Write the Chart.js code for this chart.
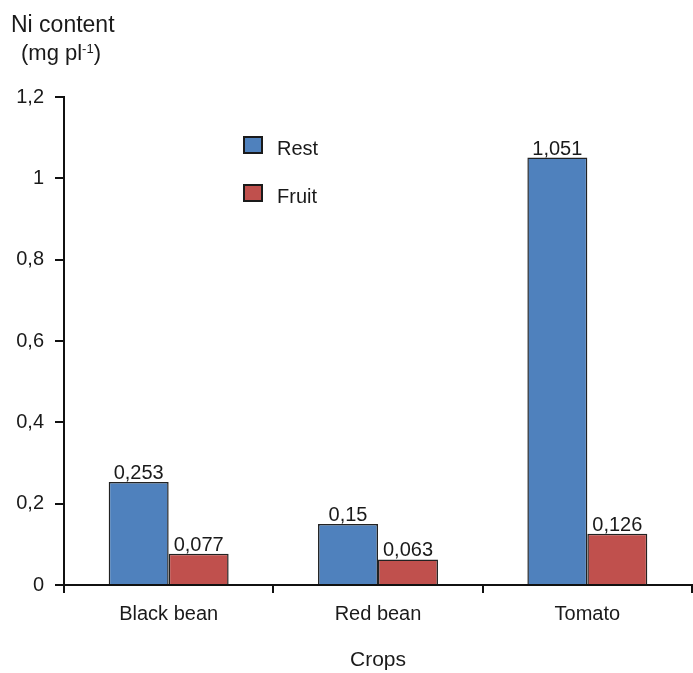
<!DOCTYPE html>
<html>
<head>
<meta charset="utf-8">
<script src="https://cdn.jsdelivr.net/npm/chart.js@4.4.1/dist/chart.umd.min.js"></script>
<style>
  html, body { margin: 0; padding: 0; background: #fff; }
  #wrap { width: 693px; height: 673px; }
</style>
</head>
<body>
<div id="wrap"><canvas id="chart" width="693" height="673"></canvas></div>
<script>
// data
const crops = ["Black bean", "Red bean", "Tomato"];
const restValues = [0.253, 0.15, 1.051];
const fruitValues = [0.077, 0.063, 0.126];
const seriesNames = ["Rest", "Fruit"];
const seriesColors = ["#4F81BD", "#C0504D"];
const yTicks = [0, 0.2, 0.4, 0.6, 0.8, 1, 1.2];

const FONT = "'Liberation Sans', Arial, sans-serif";
const fmt = v => String(v).replace(".", ",");

// axis title, legend and value labels
const extras = {
  id: "extras",
  afterDatasetsDraw(chart) {
    const c = chart.ctx;
    c.save();
    c.fillStyle = "#1a1a1a";
    c.textBaseline = "alphabetic";

    // value labels on top of bars
    c.font = "20px " + FONT;
    c.textAlign = "center";
    chart.data.datasets.forEach((ds, i) => {
      chart.getDatasetMeta(i).data.forEach((bar, j) => {
        c.fillText(fmt(ds.data[j]), bar.x, bar.y - 3);
      });
    });

    // y title
    c.textAlign = "left";
    c.font = "23px " + FONT;
    c.fillText("Ni content", 11, 32);
    c.font = "22px " + FONT;
    let x = 21;
    c.fillText("(mg pl", x, 60);
    x += c.measureText("(mg pl").width;
    c.font = "13px " + FONT;
    c.fillText("-1", x, 53);
    x += c.measureText("-1").width;
    c.font = "22px " + FONT;
    c.fillText(")", x, 60);

    // legend
    const rows = [137, 185];
    chart.data.datasets.forEach((ds, i) => {
      c.fillStyle = ds.backgroundColor;
      c.fillRect(244, rows[i], 18, 16);
      c.strokeStyle = "#1a1a1a";
      c.lineWidth = 2;
      c.strokeRect(244, rows[i], 18, 16);
      c.fillStyle = "#1a1a1a";
      c.font = "20px " + FONT;
      c.fillText(ds.label, 277, rows[i] + 18);
    });
    c.restore();
  }
};

const ctx = document.getElementById("chart");

new Chart(ctx, {
  type: "bar",
  data: {
    labels: crops,
    datasets: [
      { label: seriesNames[0], data: restValues, backgroundColor: seriesColors[0] },
      { label: seriesNames[1], data: fruitValues, backgroundColor: seriesColors[1] }
    ]
  },
  options: {
    responsive: false,
    animation: false,
    layout: { padding: { top: 97, right: 1, bottom: 0, left: 0 } },
    datasets: {
      bar: {
        borderColor: "#222",
        borderWidth: 1.5,
        categoryPercentage: 0.573,
        barPercentage: 1
      }
    },
    plugins: {
      legend: { display: false },
      tooltip: { enabled: false }
    },
    scales: {
      x: {
        afterFit: s => { s.height = 88; },
        grid: { offset: true, drawOnChartArea: false, tickLength: 8, color: "#111", lineWidth: 2 },
        border: { color: "#111", width: 2 },
        ticks: { color: "#1a1a1a", font: { family: FONT, size: 20 }, padding: 9, maxRotation: 0 },
        title: { display: true, text: "Crops", color: "#1a1a1a", font: { family: FONT, size: 21 }, padding: { top: 0, bottom: 0 } }
      },
      y: {
        min: 0,
        max: 1.2,
        afterFit: s => { s.width = 64; },
        afterBuildTicks: s => { s.ticks = yTicks.map(v => ({ value: v })); },
        grid: { drawOnChartArea: false, tickLength: 9, color: "#111", lineWidth: 2 },
        border: { color: "#111", width: 2 },
        ticks: {
          color: "#1a1a1a",
          font: { family: FONT, size: 20 },
          padding: 11,
          callback: v => fmt(v)
        }
      }
    }
  },
  plugins: [extras]
});
</script>
</body>
</html>
